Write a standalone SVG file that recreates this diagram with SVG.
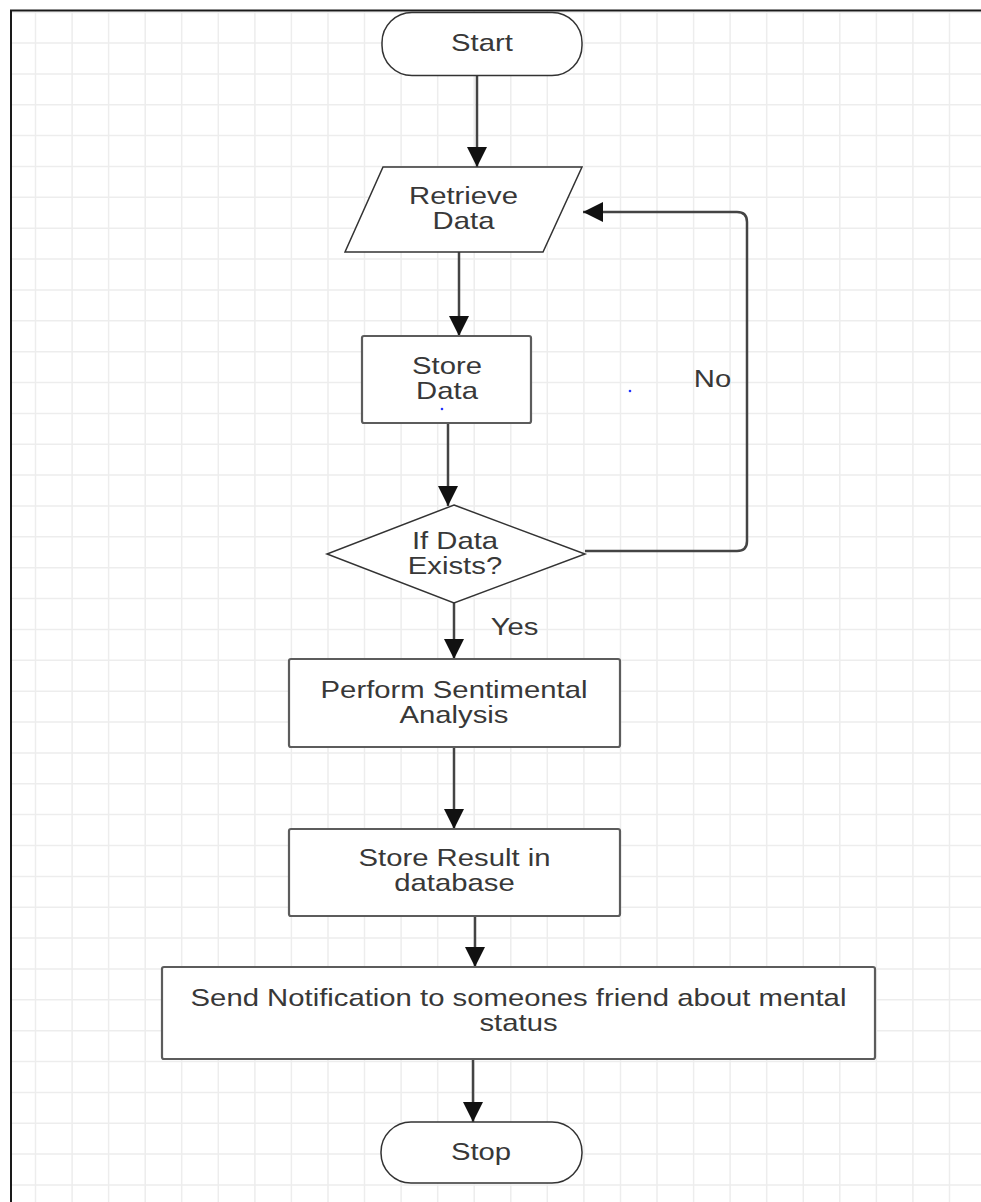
<svg xmlns="http://www.w3.org/2000/svg" width="981" height="1202" viewBox="0 0 981 1202">
<defs>
<style>
.grid{stroke:#ededed;stroke-width:1.5;fill:none}
.border{stroke:#1a1a1a;stroke-width:2;fill:none}
.term{fill:#fff;stroke:#333;stroke-width:1.5}
.proc{fill:#fff;stroke:#5c5c5c;stroke-width:2.2}
.shape{fill:#fff;stroke:#333;stroke-width:1.5}
.conn{fill:none;stroke:#444;stroke-width:2.5}
.t{font-family:"Liberation Sans",Arial,sans-serif;font-size:24px;fill:#383838;text-anchor:middle}
.dot{fill:#2233ff}
</style>
<marker id="arrow" markerUnits="userSpaceOnUse" viewBox="0 0 20 20" markerWidth="20" markerHeight="20" refX="20" refY="10" orient="auto">
<path d="M0,0 L20,10 L0,20 Z" fill="#111"/>
</marker>
</defs>
<rect x="0" y="0" width="981" height="1202" fill="#fff"/>
<g id="grid">
<path class="grid" d="M35.5,10V1202M72.1,10V1202M108.6,10V1202M145.2,10V1202M181.7,10V1202M218.3,10V1202M254.9,10V1202M291.4,10V1202M328,10V1202M364.5,10V1202M401.1,10V1202M437.7,10V1202M474.2,10V1202M510.8,10V1202M547.3,10V1202M583.9,10V1202M620.5,10V1202M657,10V1202M693.6,10V1202M730.1,10V1202M766.7,10V1202M803.3,10V1202M839.8,10V1202M876.4,10V1202M912.9,10V1202M949.5,10V1202"/>
<path class="grid" d="M11,12.4H981M11,43H981M11,73.9H981M11,104.7H981M11,135.6H981M11,166.5H981M11,197.3H981M11,228.2H981M11,259.1H981M11,289.9H981M11,320.8H981M11,351.7H981M11,382.5H981M11,413.4H981M11,444.2H981M11,475.1H981M11,506H981M11,536.8H981M11,567.7H981M11,598.6H981M11,629.4H981M11,660.3H981M11,691.2H981M11,722H981M11,752.9H981M11,783.8H981M11,814.6H981M11,845.5H981M11,876.4H981M11,907.2H981M11,938.1H981M11,968.9H981M11,999.8H981M11,1030.7H981M11,1061.5H981M11,1092.4H981M11,1123.3H981M11,1154.1H981M11,1185H981"/>
<path class="border" d="M981,10.5H11V1202"/>
</g>
<g id="connectors">
<path class="conn" d="M477,76V167" marker-end="url(#arrow)"/>
<path class="conn" d="M459,252V336" marker-end="url(#arrow)"/>
<path class="conn" d="M448,423V506" marker-end="url(#arrow)"/>
<path class="conn" d="M454,603V659" marker-end="url(#arrow)"/>
<path class="conn" d="M454,747V829" marker-end="url(#arrow)"/>
<path class="conn" d="M475,916V967" marker-end="url(#arrow)"/>
<path class="conn" d="M473,1059V1122" marker-end="url(#arrow)"/>
<path class="conn" d="M585,551H737Q747,551 747,541V222Q747,212 737,212H583" marker-end="url(#arrow)"/>
<text class="t" transform="translate(712.5 0) scale(1.22 1)" x="0" y="387">No</text>
<text class="t" transform="translate(514.5 0) scale(1.22 1)" x="0" y="635">Yes</text>
</g>
<g id="start">
<rect class="term" x="382" y="12.5" width="200" height="63" rx="30" ry="30"/>
<text class="t" transform="translate(482 0) scale(1.22 1)" x="0" y="51">Start</text>
</g>
<g id="retrieve">
<polygon class="shape" points="383,167 582,167 543,252 345,252"/>
<text class="t" transform="translate(463.5 0) scale(1.22 1)"><tspan x="0" y="204">Retrieve</tspan><tspan x="0" y="229.5">Data</tspan></text>
</g>
<g id="store">
<rect class="proc" x="362" y="336" width="169" height="87" rx="2"/>
<text class="t" transform="translate(447 0) scale(1.22 1)"><tspan x="0" y="374">Store</tspan><tspan x="0" y="399">Data</tspan></text>
<circle class="dot" cx="442" cy="409" r="1.3"/>
</g>
<circle class="dot" cx="630" cy="391" r="1.3"/>
<g id="decision">
<polygon class="shape" points="454,505 585,554 454,603 327,554"/>
<text class="t" transform="translate(455 0) scale(1.22 1)"><tspan x="0" y="549">If Data</tspan><tspan x="0" y="574">Exists?</tspan></text>
</g>
<g id="analysis">
<rect class="proc" x="289" y="659" width="331" height="88" rx="2"/>
<text class="t" transform="translate(454 0) scale(1.22 1)"><tspan x="0" y="698">Perform Sentimental</tspan><tspan x="0" y="723">Analysis</tspan></text>
</g>
<g id="result">
<rect class="proc" x="289" y="829" width="331" height="87" rx="2"/>
<text class="t" transform="translate(454.5 0) scale(1.22 1)"><tspan x="0" y="866">Store Result in</tspan><tspan x="0" y="891">database</tspan></text>
</g>
<g id="notify">
<rect class="proc" x="162" y="967" width="713" height="92" rx="2"/>
<text class="t" transform="translate(518.5 0) scale(1.22 1)"><tspan x="0" y="1006">Send Notification to someones friend about mental</tspan><tspan x="0" y="1031">status</tspan></text>
</g>
<g id="stop">
<rect class="term" x="381" y="1122" width="201" height="61" rx="30" ry="30"/>
<text class="t" transform="translate(481 0) scale(1.22 1)" x="0" y="1160">Stop</text>
</g>
</svg>
